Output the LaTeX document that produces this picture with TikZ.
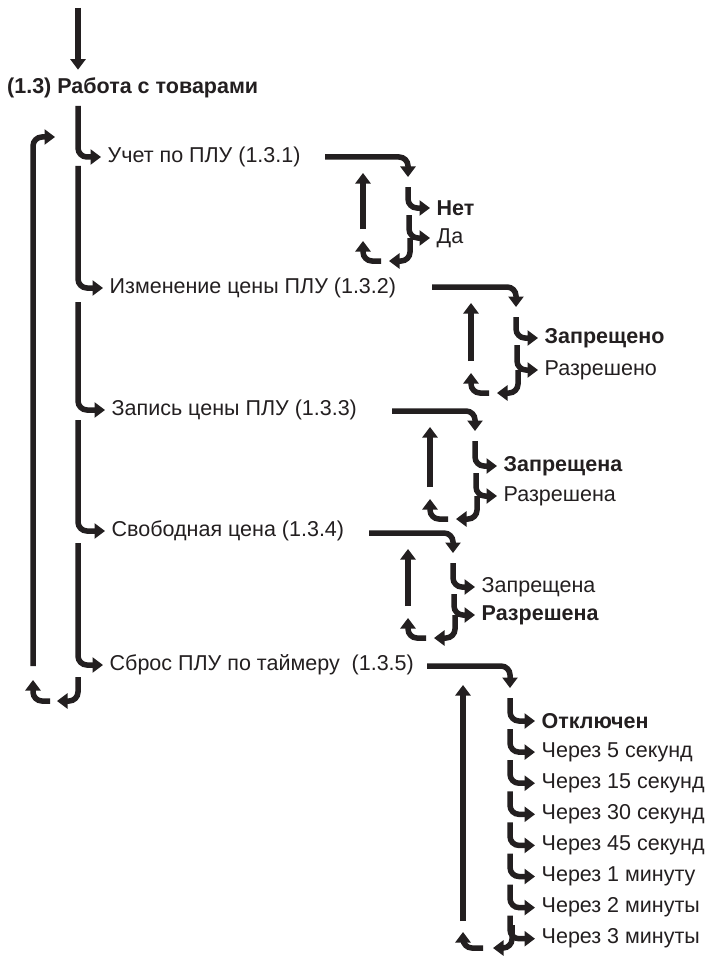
\documentclass[tikz,border=0pt]{standalone}
\usepackage{fontspec}
\setmainfont{Liberation Sans}
\usetikzlibrary{arrows.meta}
\definecolor{ink}{HTML}{231F20}

\begin{document}
\begin{tikzpicture}[x=1pt, y=-1pt,
  font=\fontsize{21.5}{26}\selectfont,
  arr/.style={-{Triangle[length=10.5pt,width=15pt]}, line width=5.5pt, draw=ink, rounded corners=9pt},
  tip/.style={shorten >=3pt},
  item/.style={anchor=west, inner sep=3.5pt, text=ink},
  optR/.style={anchor=west, inner sep=3.5pt, text=ink},
  optB/.style={optR, font=\fontsize{21.5}{26}\selectfont\bfseries},
  hd/.style={anchor=west, inner sep=3pt, text=ink, font=\fontsize{21.5}{26}\selectfont\bfseries},
]
\useasboundingbox (0,0) rectangle (704,960);
\fill[white] (0,0) rectangle (704,960);
\clip (0,0) rectangle (704,960);

% entry and menu items
\node[hd] (title) at (4,88) {(1.3) Работа с товарами};
\coordinate (top) at (78,8);
\draw[arr] (top) -- ([yshift=5pt]top |- title.north);

\node[item] (i1) at (104,157) {Учет по ПЛУ (1.3.1)};
\node[item] (i2) at (106,288) {Изменение цены ПЛУ (1.3.2)};
\node[item] (i3) at (108,410) {Запись цены ПЛУ (1.3.3)};
\node[item] (i4) at (108,531) {Свободная цена (1.3.4)};
\node[item] (i5) at (106,665) {Сброс ПЛУ по таймеру\ \ (1.3.5)};

\foreach \n/\s in {1/106, 2/166, 3/302, 4/420, 5/543}{
  \coordinate (m\n) at (78,\s);
  \draw[arr,tip] (m\n) |- (i\n.west);
}
% loop back to the first item
\coordinate (mf) at (78,677);
\coordinate (ml) at (57,701);
\draw[arr] (mf) |- (ml);
\coordinate (mr) at (50,701);
\coordinate (mu) at (33,680);
\draw[arr] (mr) -| (mu);
\coordinate (lb) at (33,666);
\coordinate (lt) at (55,137);
\draw[arr] (lb) |- (lt);

% two-way settings
\foreach \n/\y/\s/\x/\a/\b/\ta/\tb/\wa/\wb in {
    1/157/325/408/208/238/Нет/Да/optB/optR,
    2/287/432/516/338/370/Запрещено/Разрешено/optB/optR,
    3/411/392/475/466/496/Запрещена/Разрешена/optB/optR,
    4/533/369/453/587/615/Запрещена/Разрешена/optR/optB}{
  \coordinate (bs\n) at (\s,\y);
  \coordinate (bd\n) at (\x,\y+20);
  \draw[arr] (bs\n) -| (bd\n);
  \node[\wa] (o\n a) at (\x+25,\a) {\ta};
  \node[\wb] (o\n b) at (\x+25,\b) {\tb};
  \coordinate (ga\n) at (\x,\y+30);
  \coordinate (gb\n) at (\x+1,\a+7);
  \draw[arr,tip] (ga\n) |- (o\n a.west);
  \draw[arr,tip] (gb\n) |- (o\n b.west);
  \coordinate (rf\n) at (\x+2,\b);
  \coordinate (rl\n) at (\x-19,\b+23);
  \draw[arr] (rf\n) |- (rl\n);
  \coordinate (rr\n) at (\x-27,\b+23);
  \coordinate (ru\n) at (\x-45,\b+3);
  \draw[arr] (rr\n) -| (ru\n);
  \coordinate (up\n) at (\x-45,\b-9);
  \coordinate (ut\n) at (\x-45,\y+16);
  \draw[arr] (up\n) -- (ut\n);
}

% timer choices
\coordinate (bs5) at (427,666);
\coordinate (bd5) at (510,688);
\draw[arr] (bs5) -| (bd5);
\foreach \k/\t/\w in {0/Отключен/optB, 1/Через 5 секунд/optR, 2/Через 15 секунд/optR,
    3/Через 30 секунд/optR, 4/Через 45 секунд/optR, 5/Через 1 минуту/optR,
    6/Через 2 минуты/optR, 7/Через 3 минуты/optR}{
  \node[\w] (t\k) at (538,{721+31.1*\k}) {\t};
  \coordinate (g\k) at (510,{698+31.1*\k});
  \draw[arr,tip] (g\k) |- (t\k.west);
}
\coordinate (rf5) at (512,925);
\coordinate (rl5) at (493,948);
\draw[arr] (rf5) |- (rl5);
\coordinate (rr5) at (483,948);
\coordinate (ru5) at (463,932);
\draw[arr] (rr5) -| (ru5);
\coordinate (up5) at (463,921);
\coordinate (ut5) at (463,685);
\draw[arr] (up5) -- (ut5);
\end{tikzpicture}
\end{document}
